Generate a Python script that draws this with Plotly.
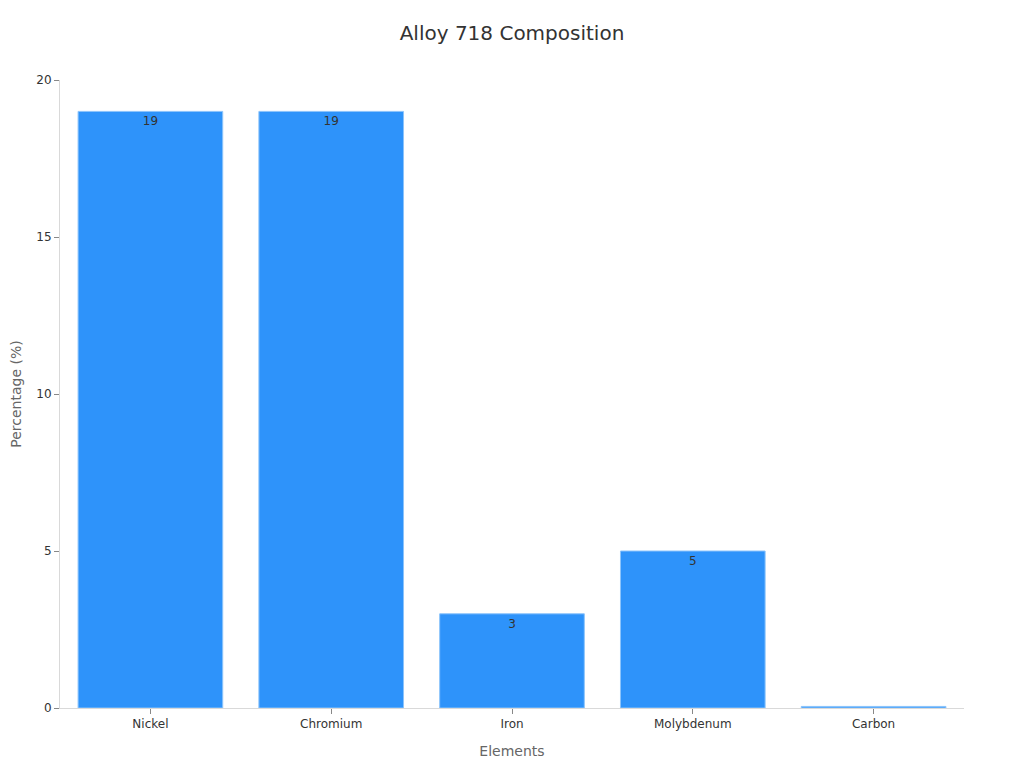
import plotly.graph_objects as go

elements = ["Nickel", "Chromium", "Iron", "Molybdenum", "Carbon"]
percentages = [19, 19, 3, 5, 0.05]
labels = ["19", "19", "3", "5", ""]

fig = go.Figure(
    go.Bar(
        x=elements,
        y=percentages,
        text=labels,
        textposition="inside",
        insidetextanchor="end",
        textfont=dict(size=12, color="#333333"),
        marker=dict(color="#2E93FA", line=dict(color="#8CC4FB", width=1)),
        hoverinfo="x+y",
    )
)

fig.update_layout(
    width=1008,
    height=752,
    font=dict(family="DejaVu Sans", color="#333333"),
    title=dict(text="Alloy 718 Composition", x=0.5, xanchor="center", y=1 - 25 / 752, yanchor="middle",
               font=dict(size=20, color="#333333")),
    margin=dict(l=52, r=52, t=72, b=52, autoexpand=False),
    paper_bgcolor="white",
    plot_bgcolor="white",
    bargap=0.2,
    showlegend=False,
)
fig.update_xaxes(
    title=dict(text="Elements", font=dict(size=14, color="#666666"), standoff=15),
    automargin=False,
    showline=True, linecolor="#D9D9D9", linewidth=1,
    ticks="outside", ticklen=5, tickcolor="#888888",
    tickfont=dict(size=12, color="#333333"),
    showgrid=False,
)
fig.update_yaxes(
    title=dict(text="Percentage (%)", font=dict(size=14, color="#666666"), standoff=24),
    automargin=False,
    range=[0, 20], dtick=5,
    showline=True, linecolor="#D9D9D9", linewidth=1,
    ticks="outside", ticklen=5, tickcolor="#888888",
    tickfont=dict(size=12, color="#333333"),
    showgrid=False, zeroline=False,
)

fig.write_html("out.html")
